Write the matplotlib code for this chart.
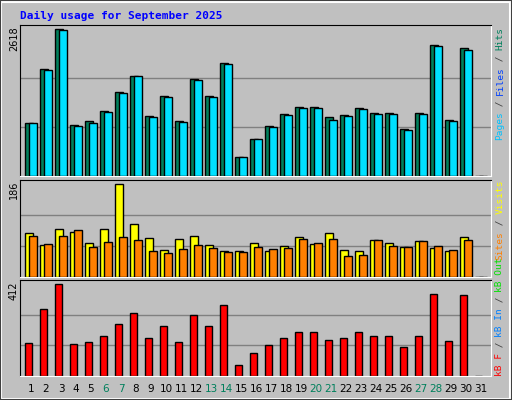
import matplotlib
matplotlib.use("Agg")
import matplotlib.pyplot as plt
from matplotlib.patches import Rectangle

days = list(range(1, 32))
hits = [940, 1904, 2618, 904, 976, 1154, 1499, 1779, 1065, 1422, 976, 1726, 1422, 2011, 339,
        655, 887, 1101, 1226, 1226, 1047, 1083, 1208, 1119, 1119, 833, 1119, 2332, 994, 2279, 0]
files = [940, 1886, 2600, 886, 940, 1136, 1481, 1779, 1047, 1404, 958, 1708, 1404, 1993, 339,
         655, 869, 1083, 1208, 1208, 993, 1065, 1190, 1101, 1101, 815, 1101, 2315, 976, 2243, 0]
visits = [89, 65, 97, 91, 69, 97, 186, 107, 79, 55, 77, 83, 65, 53, 53,
          69, 53, 63, 81, 67, 89, 55, 53, 75, 69, 61, 73, 59, 53, 81, 0]
sites = [83, 67, 83, 95, 61, 71, 81, 75, 53, 49, 57, 65, 59, 51, 51,
         61, 57, 59, 77, 69, 77, 42, 44, 75, 63, 61, 73, 63, 55, 75, 0]
kbytes = [149, 299, 412, 145, 154, 181, 235, 281, 168, 222, 154, 272, 226, 317, 50,
          104, 140, 172, 195, 195, 163, 168, 195, 177, 177, 131, 177, 367, 158, 362, 0]
weekends = [6, 7, 13, 14, 20, 21, 27, 28]

W, H = 512, 400
BG = "#c0c0c0"
fig = plt.figure(figsize=(W / 100, H / 100), dpi=100, facecolor=BG)

# outer bevel
fig.patches.append(Rectangle((1 / W, 1 / H), 509 / W, 397 / H, transform=fig.transFigure,
                             fill=False, edgecolor="white", lw=1.5))
fig.patches.append(Rectangle((0, 0), 1, 1, transform=fig.transFigure,
                             fill=False, edgecolor="#404040", lw=1.5))

fig.text(20 / W, 1 - 16 / H, "Daily usage for September 2025", color="#0000ff",
         family="DejaVu Sans Mono", weight="bold", fontsize=8, va="center")


def panel(top, bottom, ymax):
    ax = fig.add_axes([20 / W, 1 - bottom / H, 471 / W, (bottom - top) / H])
    ax.set_facecolor(BG)
    ax.set_xlim(0.267, 31.667)
    ax.set_ylim(0, ymax * (bottom - top) / (bottom - top - 4))
    for g in (ymax / 3, ymax * 2 / 3):
        ax.axhline(g, color="#808080", lw=1, zorder=0)
    ax.set_xticks([])
    ax.set_yticks([])
    for s in ax.spines.values():
        s.set_color("black")
    ax.spines["right"].set_color("white")
    ax.spines["bottom"].set_color("white")
    fig.text(14 / W, 1 - (top + 1) / H, str(ymax), rotation=90, ha="center", va="top",
             fontsize=7, color="black")
    return ax


def side_label(top, pieces):
    cw = 5.65
    y = top
    for text, color in reversed(pieces):
        fig.text(500 / W, 1 - y / H, text, rotation=90, ha="center", va="top",
                 color=color, family="DejaVu Sans Mono", fontsize=6.8)
        y += len(text) * cw


ax1 = panel(25, 176, 2618)
ax1.bar([d - 0.4 for d in days], hits, width=0.53, align="edge", color="#00805c",
        edgecolor="black", lw=1, zorder=2)
ax1.bar([d - 0.133 for d in days], files, width=0.53, align="edge", color="#00e0ff",
        edgecolor="black", lw=1, zorder=3)
side_label(27, [("Pages", "#00c0ff"), (" / ", "#404040"), ("Files", "#0040ff"),
                (" / ", "#404040"), ("Hits", "#00805c")])

ax2 = panel(180, 277, 186)
ax2.bar([d - 0.4 for d in days], visits, width=0.53, align="edge", color="#ffff00",
        edgecolor="black", lw=1, zorder=2)
ax2.bar([d - 0.133 for d in days], sites, width=0.53, align="edge", color="#ff8000",
        edgecolor="black", lw=1, zorder=3)
side_label(180, [("Sites", "#ff8000"), (" / ", "#404040"), ("Visits", "#ffff00")])

ax3 = panel(280, 376, 412)
ax3.bar([d - 0.4 for d in days], kbytes, width=0.5, align="edge", color="#ff0000",
        edgecolor="black", lw=1, zorder=2)
side_label(257, [("kB F", "#ff0000"), (" / ", "#404040"), ("kB In", "#0080ff"),
                 (" / ", "#404040"), ("kB Out", "#00e000")])

for d in days:
    fig.text((20 + (d - 0.267) * 471 / 31.4) / W, 1 - 389 / H, str(d), ha="center", va="center",
             fontsize=7.5, color="#00805c" if d in weekends else "black")

fig.savefig("out.png", dpi=100, facecolor=BG)
